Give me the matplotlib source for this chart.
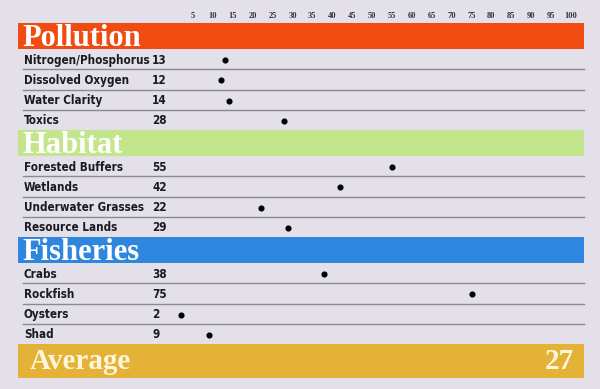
import matplotlib.pyplot as plt
from matplotlib.patches import Rectangle

# data
groups = ['Pollution', 'Habitat', 'Fisheries']
group_colors = ['#f04c12', '#c3e58c', '#2e86de']
pollution_labels = ['Nitrogen/Phosphorus', 'Dissolved Oxygen', 'Water Clarity', 'Toxics']
pollution_values = [13, 12, 14, 28]
habitat_labels = ['Forested Buffers', 'Wetlands', 'Underwater Grasses', 'Resource Lands']
habitat_values = [55, 42, 22, 29]
fisheries_labels = ['Crabs', 'Rockfish', 'Oysters', 'Shad']
fisheries_values = [38, 75, 2, 9]
average_value = 27
scale_ticks = list(range(5, 105, 5))

group_labels = [pollution_labels, habitat_labels, fisheries_labels]
group_values = [pollution_values, habitat_values, fisheries_values]

bg = '#e4e0e9'
fig = plt.figure(figsize=(6, 3.89), dpi=100, facecolor=bg)
ax = fig.add_axes([0, 0, 1, 1])
ax.set_facecolor(bg)

# x in score units (0 -> px 173, 100 -> px 571), y in pixel rows
px_per = 3.98
x0 = 173
ax.set_xlim(-x0 / px_per, (600 - x0) / px_per)
ax.set_ylim(389, 0)
ax.axis('off')

left = (18 - x0) / px_per
right = (584 - x0) / px_per
label_x = (24 - x0) / px_per
num_x = (152 - x0) / px_per
head_h = 26
row_h = 20.25
top = 23

sans = ['DejaVu Sans']
serif = ['Liberation Serif', 'DejaVu Serif']

for t in scale_ticks:
    ax.text(t, 16, str(t), ha='center', va='center', fontsize=6,
            fontweight='bold', family=serif, color='#333040')

y = top
for g, col, labels, vals in zip(groups, group_colors, group_labels, group_values):
    ax.add_patch(Rectangle((left, y), right - left, head_h, color=col, lw=0))
    ax.text(label_x - 0.3, y + head_h - 3.5, g, ha='left', va='baseline',
            fontsize=22, fontweight='bold', family=serif, color='white')
    y += head_h
    for i, (lab, v) in enumerate(zip(labels, vals)):
        yc = y + row_h / 2 + 1
        ax.text(label_x, yc, lab, ha='left', va='center', fontsize=8.4,
                fontweight='bold', fontstretch='condensed', family=sans,
                color='#1a1a22')
        ax.text(num_x, yc, str(v), ha='left', va='center', fontsize=8.4,
                fontweight='bold', fontstretch='condensed', family=sans,
                color='#1a1a22')
        ax.plot(v, yc, 'o', color='black', ms=3.4)
        if i < len(labels) - 1:
            ax.plot([(23 - x0) / px_per, right], [y + row_h, y + row_h],
                    color='#8c8799', lw=1)
        y += row_h

avg_h = 34
ax.add_patch(Rectangle((left, y), right - left, avg_h, color='#e3b236', lw=0))
ax.text((30 - x0) / px_per, y + avg_h - 9, 'Average', ha='left', va='baseline',
        fontsize=21, fontweight='bold', family=serif, color='#fdf6dc')
ax.text((574 - x0) / px_per, y + avg_h - 9, str(average_value), ha='right',
        va='baseline', fontsize=21, fontweight='bold', family=serif, color='#fdf6dc')

fig.savefig('out.png', dpi=100, facecolor=bg)
